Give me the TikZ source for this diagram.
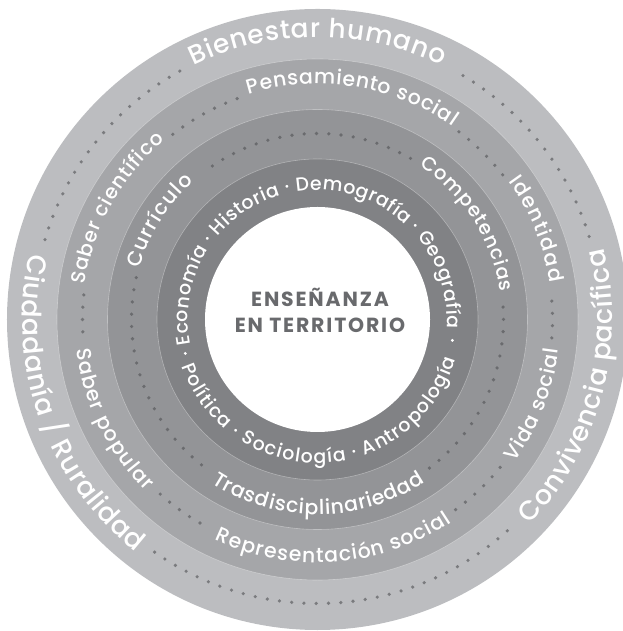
\documentclass[tikz,border=0pt]{standalone}
\usepackage{fontspec}
\setmainfont{Poppins}[UprightFont=* Medium, BoldFont=* Bold]
\usetikzlibrary{decorations.text}
\definecolor{ringA}{RGB}{188,189,192}
\definecolor{ringB}{RGB}{165,166,169}
\definecolor{ringC}{RGB}{147,148,151}
\definecolor{ringD}{RGB}{129,130,133}
\definecolor{dotA}{RGB}{122,123,126}
\definecolor{dotB}{RGB}{114,115,118}
\definecolor{dotC}{RGB}{106,107,110}
\definecolor{titlegray}{RGB}{105,106,109}
\tikzset{
  dotline/.style={draw=#1, line width=3.6bp, line cap=round, dash pattern=on 0bp off 12.3bp},
  ringline/.style={draw=white, draw opacity=.35, line width=.6bp},
  titletext/.style={anchor=base, inner sep=0pt, text=titlegray,
    font=\bfseries\fontsize{20.5}{24}\selectfont\addfontfeatures{LetterSpace=9}},
  sepdot/.style={fill=white, draw=none}
}
% #1 font size, #2 baseline radius, #3 start angle, #4 end angle, #5 text
\newcommand\ringlabel[5]{%
  \path[decorate, decoration={text along path,
      text={|\fontsize{#1}{#1}\selectfont|#5},
      text color=white, text align={fit to path}}]
    (C) ++(#3:#2bp) arc[start angle=#3, end angle=#4, radius=#2bp];}
\newcommand\dotarc[4]{% #1 colour, #2 radius, #3 start, #4 end
  \draw[dotline=#1] (C) ++(#3:#2bp) arc[start angle=#3, end angle=#4, radius=#2bp];}
\begin{document}
\begin{tikzpicture}[x=1bp,y=1bp]
\useasboundingbox (0,0) rectangle (623,631);
\clip (0,0) rectangle (623,631);
\coordinate (C) at (317.5,311.5);
% rings
\fill[ringA] (C) circle[radius=310.5bp];
\fill[ringB] (C) circle[radius=260.5bp];
\fill[ringC] (C) circle[radius=210bp];
\fill[ringD] (C) circle[radius=160.5bp];
\fill[white] (C) circle[radius=112.5bp];
\draw[ringline] (C) circle[radius=260.5bp];
\draw[ringline] (C) circle[radius=210bp];
\draw[ringline] (C) circle[radius=160.5bp];
% dotted arcs, outer ring
\dotarc{dotA}{284}{119}{164}
\dotarc{dotA}{284}{235}{312}
\dotarc{dotA}{284}{17}{61}
% dotted arcs, second ring
\dotarc{dotB}{235}{110}{128}
\dotarc{dotB}{235}{38}{53}
\dotarc{dotB}{235}{-4.5}{6}
\dotarc{dotB}{235}{-54}{-39}
\dotarc{dotB}{235}{228}{242.5}
\dotarc{dotB}{235}{174}{184}
% dotted arcs, third ring
\dotarc{dotC}{186}{60}{128}
\dotarc{dotC}{186}{-53}{4}
\dotarc{dotC}{186}{167}{233}
% outer ring labels
\ringlabel{26.5}{282.5}{116}{64}{Bienestar humano}
\ringlabel{27}{295}{167}{232}{Ciudadanía / Ruralidad}
\ringlabel{27}{295}{-44}{14}{Convivencia pacífica}
% second ring labels
\ringlabel{20.5}{235.5}{107}{55}{Pensamiento social}
\ringlabel{20.5}{235.5}{36}{9}{Identidad}
\ringlabel{20.5}{243}{-36}{-7}{Vida social}
\ringlabel{20.5}{243}{245}{303.5}{Representación social}
\ringlabel{20.5}{243}{187}{225}{Saber popular}
\ringlabel{20}{235.5}{171.5}{130.5}{Saber científico}
% third ring labels
\ringlabel{20.5}{185}{164}{132}{Currículo}
\ringlabel{19.5}{185}{56.5}{8.5}{Competencias}
\ringlabel{20.5}{195}{237}{303.5}{Trasdisciplinariedad}
% inner ring labels
\ringlabel{19}{129.5}{191}{-4}{Economía · Historia · Demografía · Geografía}
\ringlabel{19}{143.5}{199}{344}{Política · Sociología · Antropología}
\fill[sepdot] (C) ++(194.4:136.5bp) circle[radius=1.6bp];
\fill[sepdot] (C) ++(-8.8:136.5bp) circle[radius=1.6bp];
% centre
\node[titletext] (t1) at (320,324) {ENSEÑANZA};
\node[titletext] (t2) at (320,298) {EN TERRITORIO};
\end{tikzpicture}
\end{document}
